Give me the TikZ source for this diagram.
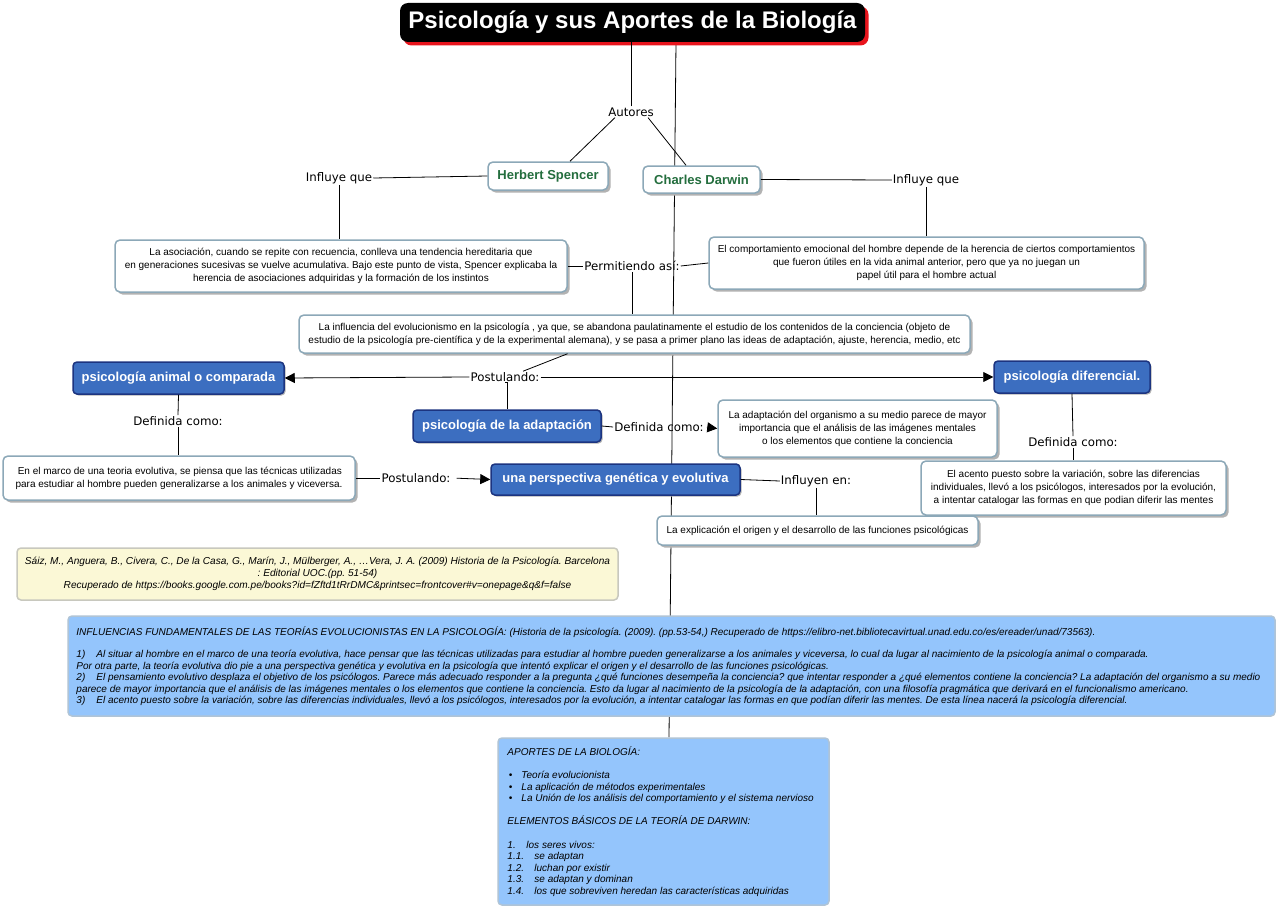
\documentclass[tikz,border=0pt]{standalone}
\usepackage{fontspec}
\setmainfont{Liberation Sans}
\newfontfamily\lblfont{DejaVu Sans}
\usetikzlibrary{arrows.meta,shadows,backgrounds}
\frenchspacing
\definecolor{boxline}{RGB}{140,168,184}
\definecolor{shadowgray}{RGB}{178,178,178}
\definecolor{bblue}{RGB}{60,110,192}
\definecolor{bblueline}{RGB}{28,52,128}
\definecolor{authgreen}{RGB}{36,110,62}
\definecolor{lightblue}{RGB}{148,197,252}
\definecolor{lightblueline}{RGB}{176,196,214}
\definecolor{refyellow}{RGB}{251,248,214}
\definecolor{refline}{RGB}{200,200,190}
\definecolor{titlered}{RGB}{232,20,28}
\begin{document}
\begin{tikzpicture}[x=1pt,y=-1pt,
  conn/.style={draw=black,line width=0.8pt},
  arr/.style={conn,-{Triangle[length=10pt,width=10pt]}},
  lbl/.style={font=\lblfont\fontsize{11.8}{14}\selectfont,inner sep=1pt},
  wbox/.style={draw=boxline,line width=1.5pt,fill=white,rounded corners=5pt,inner sep=0pt,align=center,
    font=\fontsize{10}{13}\selectfont,
    drop shadow={shadow xshift=2.5pt,shadow yshift=-2.5pt,fill=shadowgray,opacity=1}},
  auth/.style={wbox,text=authgreen,font=\bfseries\fontsize{13}{15}\selectfont},
  bbox/.style={draw=bblueline,line width=1.5pt,fill=bblue,rounded corners=4pt,inner sep=0pt,
    text=white,font=\bfseries\fontsize{13}{15}\selectfont,
    drop shadow={shadow xshift=1.5pt,shadow yshift=-1.5pt,fill=shadowgray,opacity=1}},
  titlebox/.style={fill=black,text=white,rounded corners=8pt,inner sep=0pt,
    font=\bfseries\fontsize{24}{28}\selectfont,
    drop shadow={shadow xshift=3.5pt,shadow yshift=-3.5pt,fill=titlered,opacity=1}},
  infobox/.style={draw=lightblueline,line width=1.5pt,fill=lightblue,rounded corners=4pt,inner sep=0pt},
  infotext/.style={anchor=west,inner sep=0pt,align=left}
]
\useasboundingbox (0,0) rectangle (1277,907);

% ---- nodes
\node[titlebox,minimum width=465,minimum height=39] (title) at (632.5,22.5) {Psicología y sus Aportes de la Biología};
\node[lbl] (autores) at (631,112) {Autores};
\node[auth,minimum width=120,minimum height=28] (herbert) at (548,176) {Herbert Spencer};
\node[auth,minimum width=117,minimum height=27] (darwin) at (701.5,179.5) {Charles Darwin};
\node[lbl] (influyeL) at (339,178) {Influye que};
\node[lbl] (influyeR) at (926,180) {Influye que};
\node[wbox,minimum width=452,minimum height=52] (leftbox) at (341,266) {La asociación, cuando se repite con recuencia, conlleva una tendencia hereditaria que\\en generaciones sucesivas se vuelve acumulativa. Bajo este punto de vista, Spencer explicaba la\\herencia de asociaciones adquiridas y la formación de los instintos};
\node[lbl] (permit) at (632,266) {Permitiendo así:};
\node[wbox,minimum width=435,minimum height=52] (rightbox) at (926.5,263) {El comportamiento emocional del hombre depende de la herencia de ciertos comportamientos\\que fueron útiles en la vida animal anterior, pero que ya no juegan un\\papel útil para el hombre actual};
\node[wbox,minimum width=671,minimum height=38] (midbox) at (634.5,334) {La influencia del evolucionismo en la psicología , ya que, se abandona paulatinamente el estudio de los contenidos de la conciencia (objeto de\\estudio de la psicología pre-científica y de la experimental alemana), y se pasa a primer plano las ideas de adaptación, ajuste, herencia, medio, etc};
\node[lbl] (postA) at (505,377) {Postulando:};
\node[bbox,minimum width=211,minimum height=32] (animal) at (178.5,378) {psicología animal o comparada};
\node[bbox,minimum width=156,minimum height=32] (difer) at (1072,377) {psicología diferencial.};
\node[bbox,minimum width=188,minimum height=32] (adapt) at (507,426) {psicología de la adaptación};
\node[lbl] (defA) at (178,421) {Definida como:};
\node[wbox,minimum width=352,minimum height=44] (lowleft) at (179,478) {\,En el marco de una teoria evolutiva, se piensa que las técnicas utilizadas\\para estudiar al hombre pueden generalizarse a los animales y viceversa.};
\node[lbl] (postB) at (416,478) {Postulando:};
\node[bbox,minimum width=249,minimum height=31] (persp) at (615.5,479.5) {una perspectiva genética y evolutiva};
\node[lbl] (defB) at (659,427) {Definida como:};
\node[wbox,minimum width=279,minimum height=57] (adaptbox) at (857.5,428.5) {La adaptación del organismo a su medio parece de mayor\\importancia que el análisis de las imágenes mentales\\o los elementos que contiene la conciencia};
\node[lbl] (defC) at (1073,442) {Definida como:};
\node[wbox,minimum width=305,minimum height=54] (difbox) at (1073.5,488) {El acento puesto sobre la variación, sobre las diferencias\\individuales, llevó a los psicólogos, interesados por la evolución,\\a intentar catalogar las formas en que podian diferir las mentes};
\node[lbl] (influyen) at (816,481) {Influyen en:};
\node[wbox,minimum width=321,minimum height=29] (explbox) at (817.5,530.5) {La explicación el origen y el desarrollo de las funciones psicológicas};
\node[draw=refline,line width=1.5pt,fill=refyellow,rounded corners=4pt,inner sep=0pt,align=center,
  font=\itshape\fontsize{10.1}{12}\selectfont,minimum width=601,minimum height=52] (refbox) at (317.5,574)
  {Sáiz, M., Anguera, B., Civera, C., De la Casa, G., Marín, J., Mülberger, A., …Vera, J. A. (2009) Historia de la Psicología. Barcelona\\: Editorial UOC.(pp. 51-54)\\Recuperado de https://books.google.com.pe/books?id=fZftd1tRrDMC\&printsec=frontcover\#v=onepage\&q\&f=false};

\node[infobox,minimum width=1207,minimum height=100] (bigbox) at (671.5,666) {};
\node[infotext,font=\itshape\fontsize{10}{11.4}\selectfont] (bigtext) at ([xshift=9]bigbox.west)
  {INFLUENCIAS FUNDAMENTALES DE LAS TEORÍAS EVOLUCIONISTAS EN LA PSICOLOGÍA: (Historia de la psicología. (2009). (pp.53-54,) Recuperado de https://elibro-net.bibliotecavirtual.unad.edu.co/es/ereader/unad/73563).\\[11.4pt]
  \makebox[20pt][l]{1)}Al situar al hombre en el marco de una teoría evolutiva, hace pensar que las técnicas utilizadas para estudiar al hombre pueden generalizarse a los animales y viceversa, lo cual da lugar al nacimiento de la psicología animal o comparada.\\
  Por otra parte, la teoría evolutiva dio pie a una perspectiva genética y evolutiva en la psicología que intentó explicar el origen y el desarrollo de las funciones psicológicas.\\
  \makebox[20pt][l]{2)}El pensamiento evolutivo desplaza el objetivo de los psicólogos. Parece más adecuado responder a la pregunta ¿qué funciones desempeña la conciencia? que intentar responder a ¿qué elementos contiene la conciencia? La adaptación del organismo a su medio\\
  parece de mayor importancia que el análisis de las imágenes mentales o los elementos que contiene la conciencia. Esto da lugar al nacimiento de la psicología de la adaptación, con una filosofía pragmática que derivará en el funcionalismo americano.\\
  \makebox[20pt][l]{3)}El acento puesto sobre la variación, sobre las diferencias individuales, llevó a los psicólogos, interesados por la evolución, a intentar catalogar las formas en que podían diferir las mentes. De esta línea nacerá la psicología diferencial.};

\node[infobox,minimum width=331,minimum height=167] (bottom) at (663.5,821.5) {};
\node[infotext,font=\itshape\fontsize{10}{11.6}\selectfont] (bottomtext) at ([xshift=10]bottom.west)
  {APORTES DE LA BIOLOGÍA:\\[11.6pt]
  \hspace*{1.5pt}\makebox[12.5pt][l]{•}Teoría evolucionista\\
  \hspace*{1.5pt}\makebox[12.5pt][l]{•}La aplicación de métodos experimentales\\
  \hspace*{1.5pt}\makebox[12.5pt][l]{•}La Unión de los análisis del comportamiento y el sistema nervioso\\[11.6pt]
  ELEMENTOS BÁSICOS DE LA TEORÍA DE DARWIN:\\[11.6pt]
  \makebox[19pt][l]{1.}los seres vivos:\\
  \makebox[27pt][l]{1.1.}se adaptan\\
  \makebox[27pt][l]{1.2.}luchan por existir\\
  \makebox[27pt][l]{1.3.}se adaptan y dominan\\
  \makebox[27pt][l]{1.4.}los que sobreviven heredan las características adquiridas};

% ---- connectors
\begin{scope}[on background layer]
\fill[white] (0,0) rectangle (1277,907);
\draw[conn] ([xshift=43.5]title.south) -- ([xshift=5.5]bottom.north);
\end{scope}

\draw[conn] (autores.north) -- (autores.north |- title.south);
\draw[conn] ([xshift=-16]autores.south) -- ([xshift=22]herbert.north);
\draw[conn] ([xshift=17]autores.south) -- ([xshift=-15.5]darwin.north);
\draw[conn] (herbert.west) -- (influyeL.east);
\draw[conn] (influyeL.south) -- (influyeL.south |- leftbox.north);
\draw[conn] (darwin.east) -- (influyeR.west);
\draw[conn] (influyeR.south) -- (influyeR.south |- rightbox.north);
\draw[conn] (leftbox.east) -- (permit.west);
\draw[conn] (permit.east) -- (rightbox.west);
\draw[conn] (permit.south) -- (permit.south |- midbox.north);
\draw[conn] ([xshift=-67]midbox.south) -- ([xshift=18]postA.north);
\draw[arr] (postA.west) -- (animal.east);
\draw[arr] (postA.east) -- (difer.west);
\draw[conn] (postA.south) -- (postA.south -| adapt.north) -- (adapt.north);
\draw[conn] (animal.south) -- (defA.north);
\draw[conn] (defA.south) -- (defA.south |- lowleft.north);
\draw[conn] (lowleft.east) -- (postB.west);
\draw[arr,shorten <=5pt] (postB.east) -- (persp.west);
\draw[conn] (adapt.east) -- (defB.west);
\draw[arr,shorten <=2pt] (defB.east) -- (adaptbox.west);
\draw[conn] (difer.south) -- (defC.north);
\draw[conn] (defC.south) -- (defC.south |- difbox.north);
\draw[conn] (persp.east) -- (influyen.west);
\draw[conn] (influyen.south) -- (influyen.south |- explbox.north);
\end{tikzpicture}
\end{document}
